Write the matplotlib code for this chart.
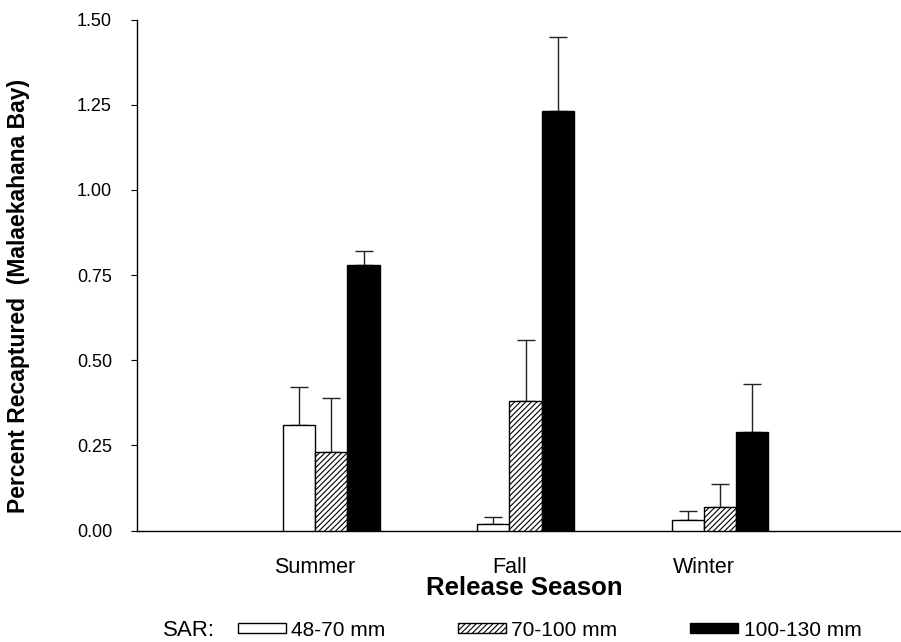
import numpy as np
import matplotlib
matplotlib.use("Agg")
import matplotlib.pyplot as plt

plt.rcParams['font.family'] = ['Liberation Sans', 'DejaVu Sans']
plt.rcParams['hatch.linewidth'] = 0.8

# data
seasons = ['Summer', 'Fall', 'Winter']
sizes = ['48-70 mm', '70-100 mm', '100-130 mm']
pct_small = [0.31, 0.02, 0.03]
pct_mid = [0.23, 0.38, 0.07]
pct_large = [0.78, 1.23, 0.29]
err_small = [0.11, 0.02, 0.027]
err_mid = [0.16, 0.18, 0.067]
err_large = [0.04, 0.22, 0.14]

fig = plt.figure(figsize=(9.01, 6.42), dpi=100)
ax = fig.add_axes([137/901, 1 - 530.5/642, 763/901, 511/642])

x = np.arange(1, len(seasons) + 1)
w = 0.166

styles = [dict(color='white', edgecolor='black', hatch=None),
          dict(color='white', edgecolor='black', hatch='//////'),
          dict(color='black', edgecolor='black', hatch=None)]
vals = [pct_small, pct_mid, pct_large]
errs = [err_small, err_mid, err_large]

handles = []
for i in range(3):
    pos = x + (i - 1) * w
    b = ax.bar(pos, vals[i], w, facecolor=styles[i]['color'],
               edgecolor=styles[i]['edgecolor'], hatch=styles[i]['hatch'],
               linewidth=1.0, zorder=3, label=sizes[i])
    handles.append(b)
    ax.errorbar(pos, vals[i], yerr=[np.zeros(3), errs[i]], fmt='none',
                ecolor='#222222', elinewidth=1.0, capsize=6.5, capthick=1.0,
                zorder=2)

ax.set_xlim(0, 3.927)
ax.set_ylim(0, 1.5)
ax.set_yticks([0, 0.25, 0.5, 0.75, 1.0, 1.25, 1.5])
ax.set_yticklabels(['%.2f' % v for v in [0, 0.25, 0.5, 0.75, 1.0, 1.25, 1.5]])
ax.set_xticks(x - w / 2)
ax.set_xticklabels(seasons)

ax.spines['top'].set_visible(False)
ax.spines['right'].set_visible(False)
ax.spines['left'].set_linewidth(1.0)
ax.spines['bottom'].set_linewidth(1.0)
ax.tick_params(axis='y', direction='out', length=4, width=0.8, pad=14,
               labelsize=13)
ax.tick_params(axis='x', length=0, pad=19, labelsize=15.5)

ax.set_ylabel('Percent Recaptured  (Malaekahana Bay)', fontsize=16.5,
              fontweight='bold')
ax.yaxis.set_label_coords(-0.140, 0.46)
ax.set_xlabel('Release Season', fontsize=18.5, fontweight='bold')
ax.xaxis.set_label_coords(0.507, -0.09)

fig.text(163/901, 1 - 631/642, 'SAR:', fontsize=16, va='center', ha='left')
fig.legend(handles=handles, labels=sizes, loc='center left',
           bbox_to_anchor=(238/901, 1 - 630/642), ncol=3, frameon=False,
           fontsize=15, borderpad=0, handlelength=2.3, handleheight=0.35,
           handletextpad=0.25, columnspacing=3.5, borderaxespad=0)

fig.savefig('out.png', dpi=100)
